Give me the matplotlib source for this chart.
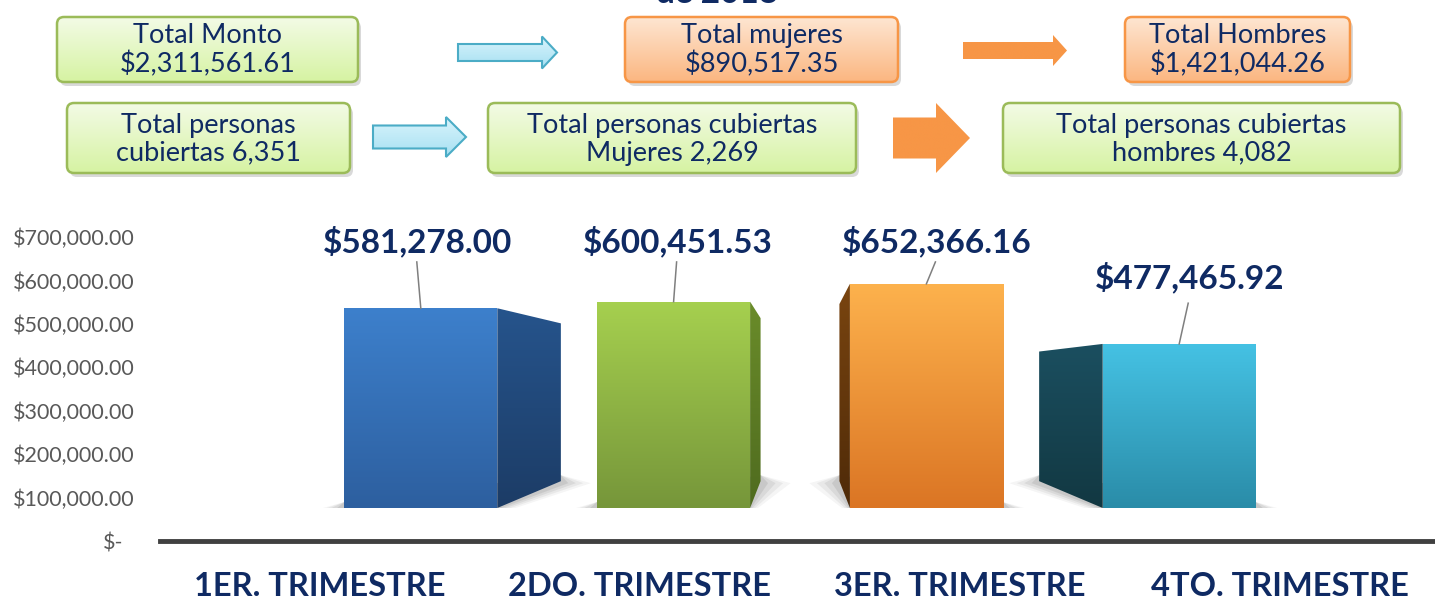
import numpy as np
import matplotlib
matplotlib.use("Agg")
import matplotlib.pyplot as plt
from matplotlib.patches import FancyBboxPatch, Polygon
from matplotlib.colors import LinearSegmentedColormap
from matplotlib.ticker import FuncFormatter

plt.rcParams['font.family'] = ['Lato', 'DejaVu Sans']

# datos
trimestres = ['1ER. TRIMESTRE', '2DO. TRIMESTRE', '3ER. TRIMESTRE', '4TO. TRIMESTRE']
montos = [581278.00, 600451.53, 652366.16, 477465.92]
y_ticks = [0, 100000, 200000, 300000, 400000, 500000, 600000, 700000]

total_monto = 2311561.61
total_mujeres = 890517.35
total_hombres = 1421044.26
personas_total = 6351
personas_mujeres = 2269
personas_hombres = 4082

NAVY = '#0f2a63'
W_PX, H_PX = 1435, 600

# colores de las barras (cara frontal y lateral, arriba/abajo)
front_top = ['#3d80cc', '#a6d04f', '#fdb24d', '#45c2e4']
front_bot = ['#2d5f9f', '#76963a', '#db7524', '#2a8ca8']
side_top = ['#26548c', '#6a8c2a', '#7a4510', '#1b4f60']
side_bot = ['#1c3c66', '#4f6b1f', '#4e2a08', '#123842']

# posicion de las etiquetas de valor (estilo)
label_y = [777000, 777000, 777000, 672000]
leader_top = [716000, 716000, 716000, 596000]
label_dx_px = [-3, 4, 10, 10]


def grad(ax, patch, c_top, c_bot, extent, z):
    cmap = LinearSegmentedColormap.from_list('g', [c_bot, c_top])
    im = ax.imshow(np.linspace(0, 1, 256).reshape(-1, 1), cmap=cmap, extent=extent,
                   origin='lower', aspect='auto', zorder=z, interpolation='bilinear')
    im.set_clip_path(patch)


fig = plt.figure(figsize=(W_PX / 100, H_PX / 100), dpi=100)

# capa superior: cajas y flechas (coordenadas en pixeles)
ov = fig.add_axes([0, 0, 1, 1])
ov.axis('off')


def caja(x0, y0, x1, y1, texto, c_top, c_bot, c_edge):
    w, h = x1 - x0, y1 - y0
    sh = FancyBboxPatch((x0 + 3, y0 + 4), w, h, boxstyle='round,pad=0,rounding_size=7',
                        fc='#000000', ec='none', alpha=0.15, zorder=1)
    ov.add_patch(sh)
    b = FancyBboxPatch((x0, y0), w, h, boxstyle='round,pad=0,rounding_size=7',
                       fc='none', ec=c_edge, lw=1.8, zorder=3)
    ov.add_patch(b)
    grad(ov, b, c_top, c_bot, (x0, x1, y1, y0), 2)
    ov.text((x0 + x1) / 2, (y0 + y1) / 2 + 1, texto, ha='center', va='center',
            fontsize=19.5, color=NAVY, linespacing=1.15, zorder=4)


def flecha(x0, tip, yc, shaft, head, head_len, fc_top, fc_bot, ec):
    x_h = tip - head_len
    pts = [(x0, yc - shaft / 2), (x_h, yc - shaft / 2), (x_h, yc - head / 2), (tip, yc),
           (x_h, yc + head / 2), (x_h, yc + shaft / 2), (x0, yc + shaft / 2)]
    p = Polygon(pts, closed=True, fc='none', ec=ec, lw=1.5 if ec != 'none' else 0, zorder=3)
    ov.add_patch(p)
    grad(ov, p, fc_top, fc_bot, (x0, tip, yc + head / 2, yc - head / 2), 2)


G_TOP, G_BOT, G_EDGE = '#f3fbe6', '#d6f3a2', '#9bbb59'
O_TOP, O_BOT, O_EDGE = '#fee6d2', '#fbb680', '#f79646'

caja(57, 17, 358, 82, f'Total Monto\n${total_monto:,.2f}', G_TOP, G_BOT, G_EDGE)
caja(625, 17, 898, 82, f'Total mujeres\n${total_mujeres:,.2f}', O_TOP, O_BOT, O_EDGE)
caja(1125, 17, 1350, 82, f'Total Hombres\n${total_hombres:,.2f}', O_TOP, O_BOT, O_EDGE)
caja(67, 103, 350, 173, f'Total personas\ncubiertas {personas_total:,}', G_TOP, G_BOT, G_EDGE)
caja(488, 103, 856, 173, f'Total personas cubiertas\nMujeres {personas_mujeres:,}', G_TOP, G_BOT, G_EDGE)
caja(1003, 103, 1400, 173, f'Total personas cubiertas\nhombres {personas_hombres:,}', G_TOP, G_BOT, G_EDGE)

flecha(458, 557, 52.5, 17, 32, 15, '#d9f4fc', '#a6e0f2', '#4bacc6')
flecha(373, 466, 137, 23, 40, 20, '#d9f4fc', '#a6e0f2', '#4bacc6')
flecha(963, 1067, 50.5, 17, 31, 14, '#f79646', '#f79646', 'none')
flecha(893, 970, 138, 41, 70, 34, '#f79646', '#f79646', 'none')

ov.set_xlim(0, W_PX)
ov.set_ylim(H_PX, 0)

# resto del titulo, cortado en el borde superior como en el original
fig.text(717 / W_PX, 1 - 3 / H_PX, 'de 2018', ha='center', va='baseline',
         fontsize=24, fontweight='bold', color=NAVY)

# eje con las etiquetas
ax = fig.add_axes([160 / W_PX, (H_PX - 541) / H_PX, 1280 / W_PX, 304 / H_PX])
ax.patch.set_visible(False)
ax.set_ylim(0, 700000)
ax.set_xlim(-0.5, 3.5)
ax.set_yticks(y_ticks)
ax.yaxis.set_major_formatter(FuncFormatter(lambda v, p: '$-' if v == 0 else f'${v:,.2f}'))
ax.set_xticks(range(len(trimestres)))
ax.set_xticklabels(trimestres, fontsize=23.5, fontweight='bold', color=NAVY)
for s in ['top', 'right', 'left']:
    ax.spines[s].set_visible(False)
ax.spines['bottom'].set_linewidth(3.5)
ax.spines['bottom'].set_color('#404040')
ax.tick_params(axis='y', length=0, labelsize=15.5, labelcolor='#595959', pad=18)
ax.tick_params(axis='x', length=0, pad=22)
ax.yaxis.get_major_ticks()[0].set_pad(26)

# barras con efecto 3D
axb = fig.add_axes([160 / W_PX, (H_PX - 508) / H_PX, 1280 / W_PX, 270 / H_PX])
axb.axis('off')
PX_X = 1 / 320
PX_Y = 2910
YMAX = 270 * PX_Y
axb.set_zorder(2)

n = len(montos)
xs = np.arange(n) + (1.5 - np.arange(n)) * 0.21
bars = axb.bar(xs, montos, width=153 * PX_X, color='none', zorder=4)
VP = (1.5, 372000)
F = 0.21
for i, rect in enumerate(bars):
    x0 = rect.get_x()
    x1 = x0 + rect.get_width()
    h = rect.get_height()
    right = xs[i] < VP[0]
    xe = x1 if right else x0
    xf = x0 if right else x1
    d = 1 if right else -1
    bb = (xe + F * (VP[0] - xe), F * VP[1])
    bt = (xe + F * (VP[0] - xe), h + F * (VP[1] - h))

    # sombra difusa
    for k, a in [(1.0, 0.06), (0.75, 0.08), (0.5, 0.10), (0.25, 0.12)]:
        sh = Polygon([(xf - d * 32 * k * PX_X, -3 * k * PX_Y), (xe, -6 * k * PX_Y),
                      (bb[0] + d * 30 * k * PX_X, bb[1] - 2 * PX_Y),
                      (bb[0], bb[1] + 6 * PX_Y), (xf, 6 * PX_Y)],
                     closed=True, fc='#555555', ec='none', alpha=a, zorder=1)
        axb.add_patch(sh)

    side = Polygon([(xe, 0), (xe, h), bt, bb], closed=True, fc='none', ec='none', zorder=3)
    axb.add_patch(side)
    grad(axb, side, side_top[i], side_bot[i], (min(xe, bb[0]), max(xe, bb[0]), 0, h), 3)
    grad(axb, rect, front_top[i], front_bot[i], (x0, x1, 0, h), 4)

    lx = xs[i] + label_dx_px[i] * PX_X
    axb.plot([lx - 1 * PX_X, xs[i]], [leader_top[i], h], color='#7f7f7f', lw=1.1,
             zorder=5, clip_on=False)
    axb.text(lx, label_y[i], f'${montos[i]:,.2f}', ha='center', va='center', fontsize=24,
             fontweight='bold', color=NAVY, zorder=6, clip_on=False)

axb.set_xlim(-0.5, 3.5)
axb.set_ylim(0, YMAX)

fig.savefig('out.png', dpi=100)
